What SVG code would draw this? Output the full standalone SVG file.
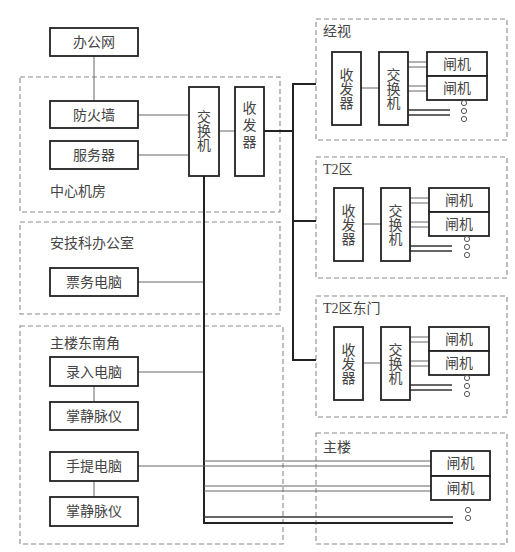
<svg xmlns="http://www.w3.org/2000/svg" width="515" height="552" viewBox="0 0 515 552">
<style>
text{font-family:"Noto Sans CJK SC","Noto Sans",sans-serif;font-size:14px;fill:#444}
.lbl{font-family:"Liberation Serif","Noto Sans CJK SC",serif}
.c{text-anchor:middle}
.v{writing-mode:vertical-rl;text-anchor:middle}
.box{fill:#fff;stroke:#222;stroke-width:1.8}
.area{fill:none;stroke:#8a8a8a;stroke-width:1.1;stroke-dasharray:5 3}
.thin{fill:none;stroke:#666;stroke-width:1}
.thick{fill:none;stroke:#222;stroke-width:2}
.dbl{fill:none;stroke:#333;stroke-width:1.5}
.dot{fill:#fff;stroke:#555;stroke-width:1}
</style>
<rect width="515" height="552" fill="#fff"/>
<!-- areas -->
<g id="area-center"><rect class="area" x="20" y="77" width="260" height="135"/><text class="lbl" x="50" y="196">中心机房</text></g>
<g id="area-office"><rect class="area" x="20" y="222" width="260" height="92"/><text class="lbl" x="50" y="248">安技科办公室</text></g>
<g id="area-se"><rect class="area" x="20" y="326" width="263" height="218"/><text class="lbl" x="50" y="348">主楼东南角</text></g>
<g id="area-jingshi"><rect class="area" x="316" y="19" width="191" height="121"/><text class="lbl" x="323" y="36">经视</text></g>
<g id="area-t2"><rect class="area" x="316" y="157" width="191" height="121"/><text class="lbl" x="323" y="174">T2区</text></g>
<g id="area-t2e"><rect class="area" x="316" y="296" width="191" height="121"/><text class="lbl" x="323" y="313">T2区东门</text></g>
<g id="area-main"><rect class="area" x="316" y="433" width="191" height="111"/><text class="lbl" x="323" y="452">主楼</text></g>
<!-- connectors -->
<g id="connectors">
<line class="thin" x1="94" y1="56" x2="94" y2="101"/>
<line class="thin" x1="138" y1="115" x2="189" y2="115"/>
<line class="thin" x1="138" y1="155" x2="189" y2="155"/>
<line class="thin" x1="219" y1="131" x2="235" y2="131"/>
<polyline class="thick" points="264,131 293,131"/>
<polyline class="thick" points="316,84 293,84 293,360 316,360"/>
<line class="thick" x1="293" y1="221" x2="316" y2="221"/>
<line class="thin" x1="138" y1="282" x2="204" y2="282"/>
<line class="thin" x1="138" y1="372" x2="204" y2="372"/>
<line class="thin" x1="94" y1="386" x2="94" y2="402"/>
<line class="thin" x1="94" y1="481" x2="94" y2="497"/>
<polyline class="thick" points="204,176 204,523 453,523"/>
<line class="dbl" x1="204" y1="517" x2="453" y2="517"/>
<line class="thin" x1="138" y1="466" x2="431" y2="466"/>
<line class="thin" x1="204" y1="461" x2="431" y2="461"/>
<line class="thin" x1="204" y1="486" x2="431" y2="486"/>
<line class="thin" x1="204" y1="491" x2="431" y2="491"/>
</g>
<!-- left nodes -->
<g id="n-office-net"><rect class="box" x="50" y="28" width="88" height="28"/><text class="c" x="94" y="47">办公网</text></g>
<g id="n-firewall"><rect class="box" x="50" y="101" width="88" height="27"/><text class="c" x="94" y="120">防火墙</text></g>
<g id="n-server"><rect class="box" x="50" y="141" width="88" height="28"/><text class="c" x="94" y="160">服务器</text></g>
<g id="n-switch-center"><rect class="box" x="189" y="87" width="30" height="89"/><text class="v" x="204" y="131">交换机</text></g>
<g id="n-trx-center"><rect class="box" x="235" y="87" width="29" height="89"/><text class="v" x="249.5" y="126" letter-spacing="3">收发器</text></g>
<g id="n-ticket-pc"><rect class="box" x="50" y="268" width="88" height="28"/><text class="c" x="94" y="287">票务电脑</text></g>
<g id="n-entry-pc"><rect class="box" x="50" y="357" width="88" height="29"/><text class="c" x="94" y="377">录入电脑</text></g>
<g id="n-palm1"><rect class="box" x="50" y="402" width="88" height="28"/><text class="c" x="94" y="421">掌静脉仪</text></g>
<g id="n-laptop"><rect class="box" x="50" y="452" width="88" height="29"/><text class="c" x="94" y="471">手提电脑</text></g>
<g id="n-palm2"><rect class="box" x="50" y="497" width="88" height="29"/><text class="c" x="94" y="516">掌静脉仪</text></g>
<!-- right sub-networks -->
<g id="sub-jingshi" transform="translate(332,52)">
<line class="thin" x1="29" y1="36" x2="47" y2="36"/>
<line class="thin" x1="76" y1="10" x2="95" y2="10"/><line class="thin" x1="76" y1="15" x2="95" y2="15"/>
<line class="thin" x1="76" y1="34" x2="95" y2="34"/><line class="thin" x1="76" y1="39" x2="95" y2="39"/>
<line class="dbl" x1="76" y1="58" x2="118" y2="58"/><line class="dbl" x1="76" y1="63" x2="118" y2="63"/>
<g id="n-trx-jingshi"><rect class="box" x="0" y="0" width="29" height="73"/><text class="v" x="14.5" y="37">收发器</text></g>
<g id="n-sw-jingshi"><rect class="box" x="47" y="0" width="29" height="73"/><text class="v" x="61.5" y="37">交换机</text></g>
<g id="n-gate-jingshi-1"><rect class="box" x="95" y="0" width="60" height="24"/><text class="c" x="125" y="17">闸机</text></g>
<g id="n-gate-jingshi-2"><rect class="box" x="95" y="24" width="60" height="24"/><text class="c" x="125" y="41">闸机</text></g>
<circle class="dot" cx="132" cy="51" r="2.6"/><circle class="dot" cx="132" cy="59" r="2.6"/><circle class="dot" cx="132" cy="67" r="2.6"/>
</g>
<g id="sub-t2" transform="translate(334,188)">
<line class="thin" x1="29" y1="36" x2="47" y2="36"/>
<line class="thin" x1="76" y1="10" x2="95" y2="10"/><line class="thin" x1="76" y1="15" x2="95" y2="15"/>
<line class="thin" x1="76" y1="34" x2="95" y2="34"/><line class="thin" x1="76" y1="39" x2="95" y2="39"/>
<line class="dbl" x1="76" y1="58" x2="118" y2="58"/><line class="dbl" x1="76" y1="63" x2="118" y2="63"/>
<g id="n-trx-t2"><rect class="box" x="0" y="0" width="29" height="73"/><text class="v" x="14.5" y="37">收发器</text></g>
<g id="n-sw-t2"><rect class="box" x="47" y="0" width="29" height="73"/><text class="v" x="61.5" y="37">交换机</text></g>
<g id="n-gate-t2-1"><rect class="box" x="95" y="0" width="60" height="24"/><text class="c" x="125" y="17">闸机</text></g>
<g id="n-gate-t2-2"><rect class="box" x="95" y="24" width="60" height="24"/><text class="c" x="125" y="41">闸机</text></g>
<circle class="dot" cx="133" cy="51" r="2.6"/><circle class="dot" cx="133" cy="59" r="2.6"/><circle class="dot" cx="133" cy="67" r="2.6"/>
</g>
<g id="sub-t2e" transform="translate(334,327)">
<line class="thin" x1="29" y1="36" x2="47" y2="36"/>
<line class="thin" x1="76" y1="10" x2="95" y2="10"/><line class="thin" x1="76" y1="15" x2="95" y2="15"/>
<line class="thin" x1="76" y1="34" x2="95" y2="34"/><line class="thin" x1="76" y1="39" x2="95" y2="39"/>
<line class="dbl" x1="76" y1="58" x2="118" y2="58"/><line class="dbl" x1="76" y1="63" x2="118" y2="63"/>
<g id="n-trx-t2e"><rect class="box" x="0" y="0" width="29" height="73"/><text class="v" x="14.5" y="37">收发器</text></g>
<g id="n-sw-t2e"><rect class="box" x="47" y="0" width="29" height="73"/><text class="v" x="61.5" y="37">交换机</text></g>
<g id="n-gate-t2e-1"><rect class="box" x="95" y="0" width="60" height="24"/><text class="c" x="125" y="17">闸机</text></g>
<g id="n-gate-t2e-2"><rect class="box" x="95" y="24" width="60" height="24"/><text class="c" x="125" y="41">闸机</text></g>
<circle class="dot" cx="133" cy="51" r="2.6"/><circle class="dot" cx="133" cy="59" r="2.6"/><circle class="dot" cx="133" cy="67" r="2.6"/>
</g>
<g id="n-gate-main-1"><rect class="box" x="431" y="451" width="59" height="25"/><text class="c" x="460.5" y="468">闸机</text></g>
<g id="n-gate-main-2"><rect class="box" x="431" y="476" width="59" height="24"/><text class="c" x="460.5" y="493">闸机</text></g>
<g id="dots-main"><circle class="dot" cx="468" cy="510" r="2.6"/><circle class="dot" cx="468" cy="518" r="2.6"/></g>
</svg>
